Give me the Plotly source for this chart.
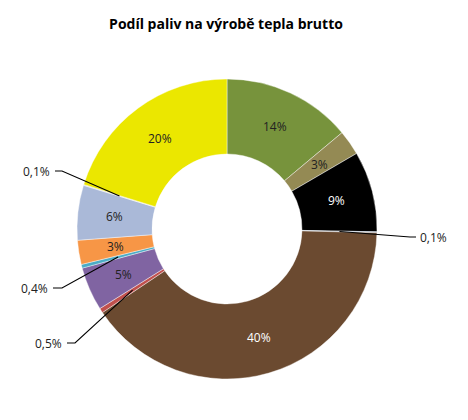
import math
import plotly.graph_objects as go

# ---- data ----
categories = ["A", "B", "C", "D", "E", "F", "G", "H", "I", "J", "K", "L"]
values = [13.9, 2.7, 8.7, 0.1, 40.2, 0.5, 4.7, 0.4, 2.6, 5.9, 0.1, 20.2]
labels_txt = ["14%", "3%", "9%", "0,1%", "40%", "0,5%", "5%", "0,4%", "3%", "6%", "0,1%", "20%"]
colors = ["#77933C", "#948A54", "#000000", "#8FA8C4", "#6B4A30", "#C0504D",
          "#8064A2", "#4BACC6", "#F79646", "#AAB9D8", "#D0D0D0", "#EBE700"]
text_colors = ["#222222", "#222222", "#ffffff", "#222222", "#ffffff", "#222222",
               "#222222", "#222222", "#222222", "#222222", "#222222", "#222222"]
small = {3, 5, 7, 10}

W, H = 468, 420
cx, cy, R = 227, 229, 150
hole = 0.5
rmid = R * (1 + hole) / 2

fig = go.Figure(go.Pie(
    labels=categories,
    values=values,
    textinfo="none",
    sort=False,
    direction="clockwise",
    rotation=0,
    hole=hole,
    marker=dict(colors=colors, line=dict(color="rgba(255,255,255,0.6)", width=0.7)),
    domain=dict(x=[(cx - R) / W, (cx + R) / W], y=[(H - cy - R) / H, (H - cy + R) / H]),
    showlegend=False,
    hoverinfo="skip",
))

def px2paper(x, y):
    return x / W, 1 - y / H

total = sum(values)
cum = 0
mids = []
for v in values:
    mids.append((cum + v / 2) / total)
    cum += v

def ring_point(frac, r):
    th = 2 * math.pi * frac
    return cx + r * math.sin(th), cy - r * math.cos(th)

# label placement for small slices: (label x, label y, anchor side, elbow x, line start x)
placement = {
    3: (418, 237, "left", 410, 416),
    5: (64, 343, "right", 75, 67),
    7: (50, 288, "right", 62, 53),
    10: (52, 171, "right", 62, 55),
}

shapes = []
annotations = []
for i, t in enumerate(labels_txt):
    if i in small:
        lx, ly, side, ex, sx = placement[i]
        axp, ayp = ring_point(mids[i], rmid)
        p0 = px2paper(axp, ayp)
        p1 = px2paper(ex, ly)
        p2 = px2paper(sx, ly)
        shapes.append(dict(
            type="path", xref="paper", yref="paper",
            path=f"M {p0[0]},{p0[1]} L {p1[0]},{p1[1]} L {p2[0]},{p2[1]}",
            line=dict(color="#000000", width=1.1),
        ))
        tx, ty = px2paper(lx, ly)
        annotations.append(dict(
            x=tx, y=ty, xref="paper", yref="paper", text=t,
            showarrow=False, xanchor=side, yanchor="middle",
            font=dict(family="Open Sans", size=12, color="#222222"),
        ))
    else:
        px_, py_ = ring_point(mids[i], 113)
        tx, ty = px2paper(px_, py_)
        annotations.append(dict(
            x=tx, y=ty, xref="paper", yref="paper", text=t,
            showarrow=False, xanchor="center", yanchor="middle",
            font=dict(family="Open Sans", size=12, color=text_colors[i]),
        ))

fig.update_layout(
    width=W, height=H,
    margin=dict(l=0, r=0, t=0, b=0),
    paper_bgcolor="white",
    plot_bgcolor="white",
    title=dict(text="<b>Podíl paliv na výrobě tepla brutto</b>",
               x=226 / W, xanchor="center", y=1 - 24 / H, yanchor="middle",
               font=dict(family="Open Sans", size=14, color="#000000")),
    shapes=shapes,
    annotations=annotations,
)

fig.write_html("out.html", config={"displayModeBar": False},
               post_script="document.body.style.margin='0px';document.body.style.overflow='hidden';")
